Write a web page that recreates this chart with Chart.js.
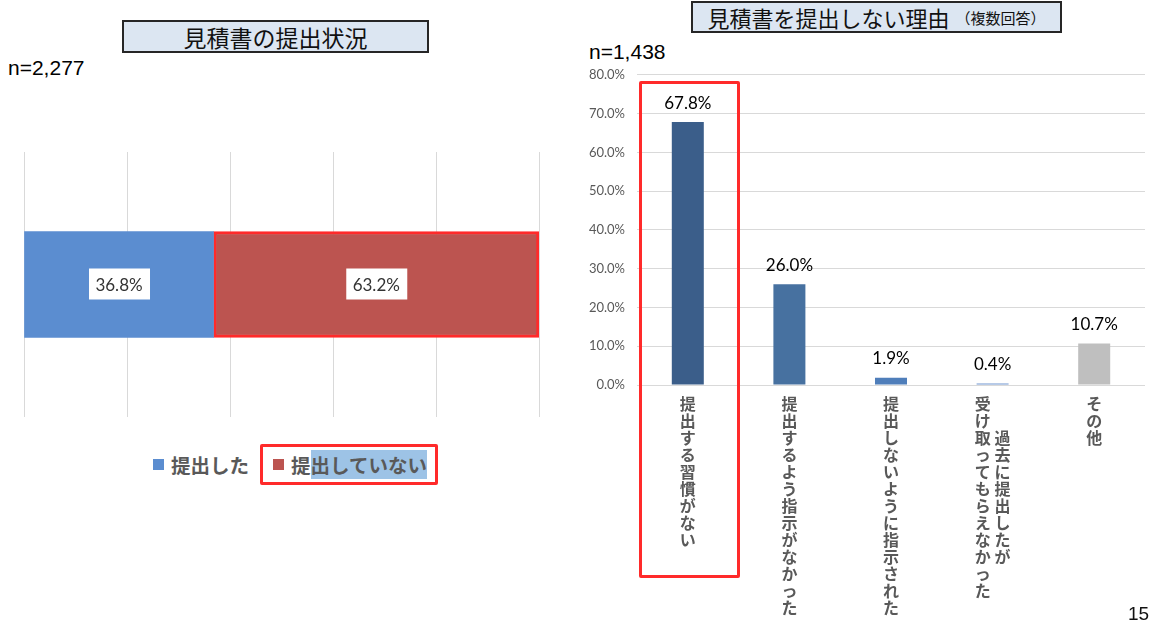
<!DOCTYPE html>
<html lang="ja">
<head>
<meta charset="utf-8">
<script src="https://cdn.jsdelivr.net/npm/chart.js@4.4.1/dist/chart.umd.min.js"></script>
<style>
  body { margin: 0; background: #fff; width: 1152px; height: 632px; position: relative; overflow: hidden;
         font-family: "Noto Sans CJK JP", sans-serif; }
  .abs { position: absolute; }
  .title-box { background: #DCE6F2; border: 2px solid #262626; color: #111; box-sizing: border-box;
               display: flex; align-items: center; justify-content: center; white-space: nowrap; }
  .n-label { font-family: "Liberation Sans", Arial, sans-serif; font-size: 21px; color: #000; }
  #legend { display: flex; align-items: center; height: 41px; font-size: 19.5px; font-weight: bold; color: #595959; }
  #legend .sq { width: 11px; height: 11px; display: inline-block; margin-right: 7px; }
  #legend .item { display: flex; align-items: center; }
  #legend .boxed { border: 3px solid #FF2A2A; border-radius: 2px; height: 35px; padding: 0 8px 0 10px; margin-left: 11px; }
  #legend .hl { background: #9DC3E6; line-height: 26px; }
  .red-frame { border: 3px solid #FF2A2A; box-sizing: border-box; border-radius: 2px; }
</style>
</head>
<body>

<div class="abs title-box" style="left:122px; top:20px; width:307px; height:33px; font-size:23px;">見積書の提出状況</div>
<div class="abs n-label" style="left:8px; top:56px;">n=2,277</div>

<div class="abs title-box" style="left:691px; top:1px; width:371px; height:32px; font-size:22px;">見積書を提出しない理由<span style="font-size:15px; margin-left:6px;">（複数回答）</span></div>
<div class="abs n-label" style="left:589px; top:40px;">n=1,438</div>

<canvas id="shareChart" class="abs" width="535" height="285" style="left:14px; top:143px;"></canvas>
<div id="legend" class="abs" style="left:153px; top:444px;"></div>

<canvas id="reasonChart" class="abs" width="580" height="575" style="left:570px; top:55px;"></canvas>
<div class="abs red-frame" style="left:639px; top:81px; width:101px; height:497px;"></div>

<div class="abs" style="left:1128px; top:603px; font-family:'Liberation Sans', Arial, sans-serif; font-size:19px; color:#111;">15</div>

<script>
// 見積書の提出状況 (n=2,277)
const shareSeries = ['提出した', '提出していない'];
const shareValues = [36.8, 63.2];
const shareTicks = [0, 20, 40, 60, 80, 100];

// 見積書を提出しない理由 (n=1,438, 複数回答)
const reasonLabels = [
    '提出する習慣がない',
    '提出するよう指示がなかった',
    '提出しないように指示された',
    '過去に提出したが\n受け取ってもらえなかった',
    'その他'
];
const reasonValues = [67.8, 26.0, 1.9, 0.4, 10.7];
const reasonTicks = [0, 10, 20, 30, 40, 50, 60, 70, 80];

const shareColors = ['#5B8DD0', '#BC5450'];
const reasonColors = ['#3B5E8A', '#4771A0', '#4F7EBA', '#7096CF', '#BFBFBF'];
const GRID = '#D9D9D9';

const pct = (v) => v.toFixed(1) + '%';

// 縦書きラベル: 文字ごとに1行、複数列は右から左へ並べて中央揃え
const toVertical = (text) => {
    const cols = text.split('\n').map(c => Array.from(c)).reverse();
    const rows = Math.max(...cols.map(c => c.length));
    const lines = [];
    for (let i = 0; i < rows; i++) {
        const parts = cols.map(c => {
            const off = Math.floor((rows - c.length) / 2);
            return c[i - off] || '\u3000';
        });
        lines.push(parts.join(' '));
    }
    return lines;
};

// 左グラフのデータラベル（白い箱）
const boxLabels = {
    id: 'boxLabels',
    afterDatasetsDraw(chart) {
        const ctx = chart.ctx;
        ctx.save();
        ctx.font = '17px Lato, "Noto Sans", sans-serif';
        ctx.textAlign = 'center';
        ctx.textBaseline = 'middle';
        chart.data.datasets.forEach((ds, i) => {
            chart.getDatasetMeta(i).data.forEach((bar, j) => {
                const cx = (bar.x + bar.base) / 2;
                const cy = bar.y;
                ctx.fillStyle = '#fff';
                ctx.fillRect(cx - 30, cy - 16, 61, 31);
                ctx.fillStyle = '#333';
                ctx.fillText(pct(ds.data[j]), cx, cy + 1);
            });
        });
        ctx.restore();
    }
};

// 右グラフの値ラベル
const topLabels = {
    id: 'topLabels',
    afterDatasetsDraw(chart) {
        const ctx = chart.ctx;
        ctx.save();
        ctx.font = '17px Lato, "Noto Sans", sans-serif';
        ctx.fillStyle = '#000';
        ctx.textAlign = 'center';
        ctx.textBaseline = 'middle';
        const ds = chart.data.datasets[0];
        chart.getDatasetMeta(0).data.forEach((bar, j) => {
            ctx.fillText(pct(ds.data[j]), bar.x, bar.y - 19);
        });
        ctx.restore();
    }
};

new Chart(document.getElementById('shareChart'), {
    type: 'bar',
    data: {
        labels: [''],
        datasets: shareSeries.map((name, i) => ({
            label: name,
            data: [shareValues[i]],
            backgroundColor: shareColors[i],
            borderColor: i === 1 ? '#FF2A2A' : shareColors[i],
            borderWidth: i === 1 ? 3 : 0,
            borderSkipped: false,
            barThickness: 106
        }))
    },
    options: {
        responsive: false,
        animation: false,
        indexAxis: 'y',
        layout: { padding: { left: 10, right: 10, top: 9, bottom: 11 } },
        plugins: { legend: { display: false }, tooltip: { enabled: false } },
        scales: {
            x: {
                stacked: true,
                min: shareTicks[0],
                max: shareTicks[shareTicks.length - 1],
                afterBuildTicks: (scale) => { scale.ticks = shareTicks.map(v => ({ value: v })); },
                ticks: { display: false },
                grid: { color: GRID, drawTicks: false },
                border: { display: false }
            },
            y: { stacked: true, display: false }
        }
    },
    plugins: [boxLabels]
});

// 凡例
const legendEl = document.getElementById('legend');
shareSeries.forEach((name, i) => {
    const item = document.createElement('div');
    item.className = 'item' + (i === 1 ? ' boxed' : '');
    const sq = document.createElement('span');
    sq.className = 'sq';
    sq.style.background = shareColors[i];
    item.appendChild(sq);
    const txt = document.createElement('span');
    if (i === 1) {
        txt.innerHTML = name.slice(0, 1) + '<span class="hl">' + name.slice(1) + '</span>';
    } else {
        txt.textContent = name;
    }
    item.appendChild(txt);
    legendEl.appendChild(item);
});

new Chart(document.getElementById('reasonChart'), {
    type: 'bar',
    data: {
        labels: reasonLabels.map(toVertical),
        datasets: [{
            data: reasonValues,
            backgroundColor: reasonColors,
            categoryPercentage: 1,
            barPercentage: 0.315
        }]
    },
    options: {
        responsive: false,
        animation: false,
        layout: { padding: { left: 0, right: 5, top: 0, bottom: 0 } },
        plugins: { legend: { display: false }, tooltip: { enabled: false } },
        scales: {
            y: {
                min: reasonTicks[0],
                max: reasonTicks[reasonTicks.length - 1],
                afterBuildTicks: (scale) => { scale.ticks = reasonTicks.map(v => ({ value: v })); },
                afterFit: (scale) => { scale.width = 67; },
                ticks: {
                    padding: 12,
                    color: '#595959',
                    font: { family: 'Lato, "Noto Sans", sans-serif', size: 13 },
                    callback: (v) => pct(v)
                },
                grid: { color: GRID, drawTicks: false },
                border: { display: false }
            },
            x: {
                afterFit: (scale) => { scale.height = 245; },
                ticks: {
                    padding: 10,
                    autoSkip: false,
                    maxRotation: 0,
                    minRotation: 0,
                    color: '#595959',
                    font: { family: '"Noto Sans CJK JP", sans-serif', size: 16, weight: 'bold', lineHeight: '17px' }
                },
                grid: { display: false, drawTicks: false },
                border: { display: false }
            }
        }
    },
    plugins: [topLabels]
});
</script>
</body>
</html>
